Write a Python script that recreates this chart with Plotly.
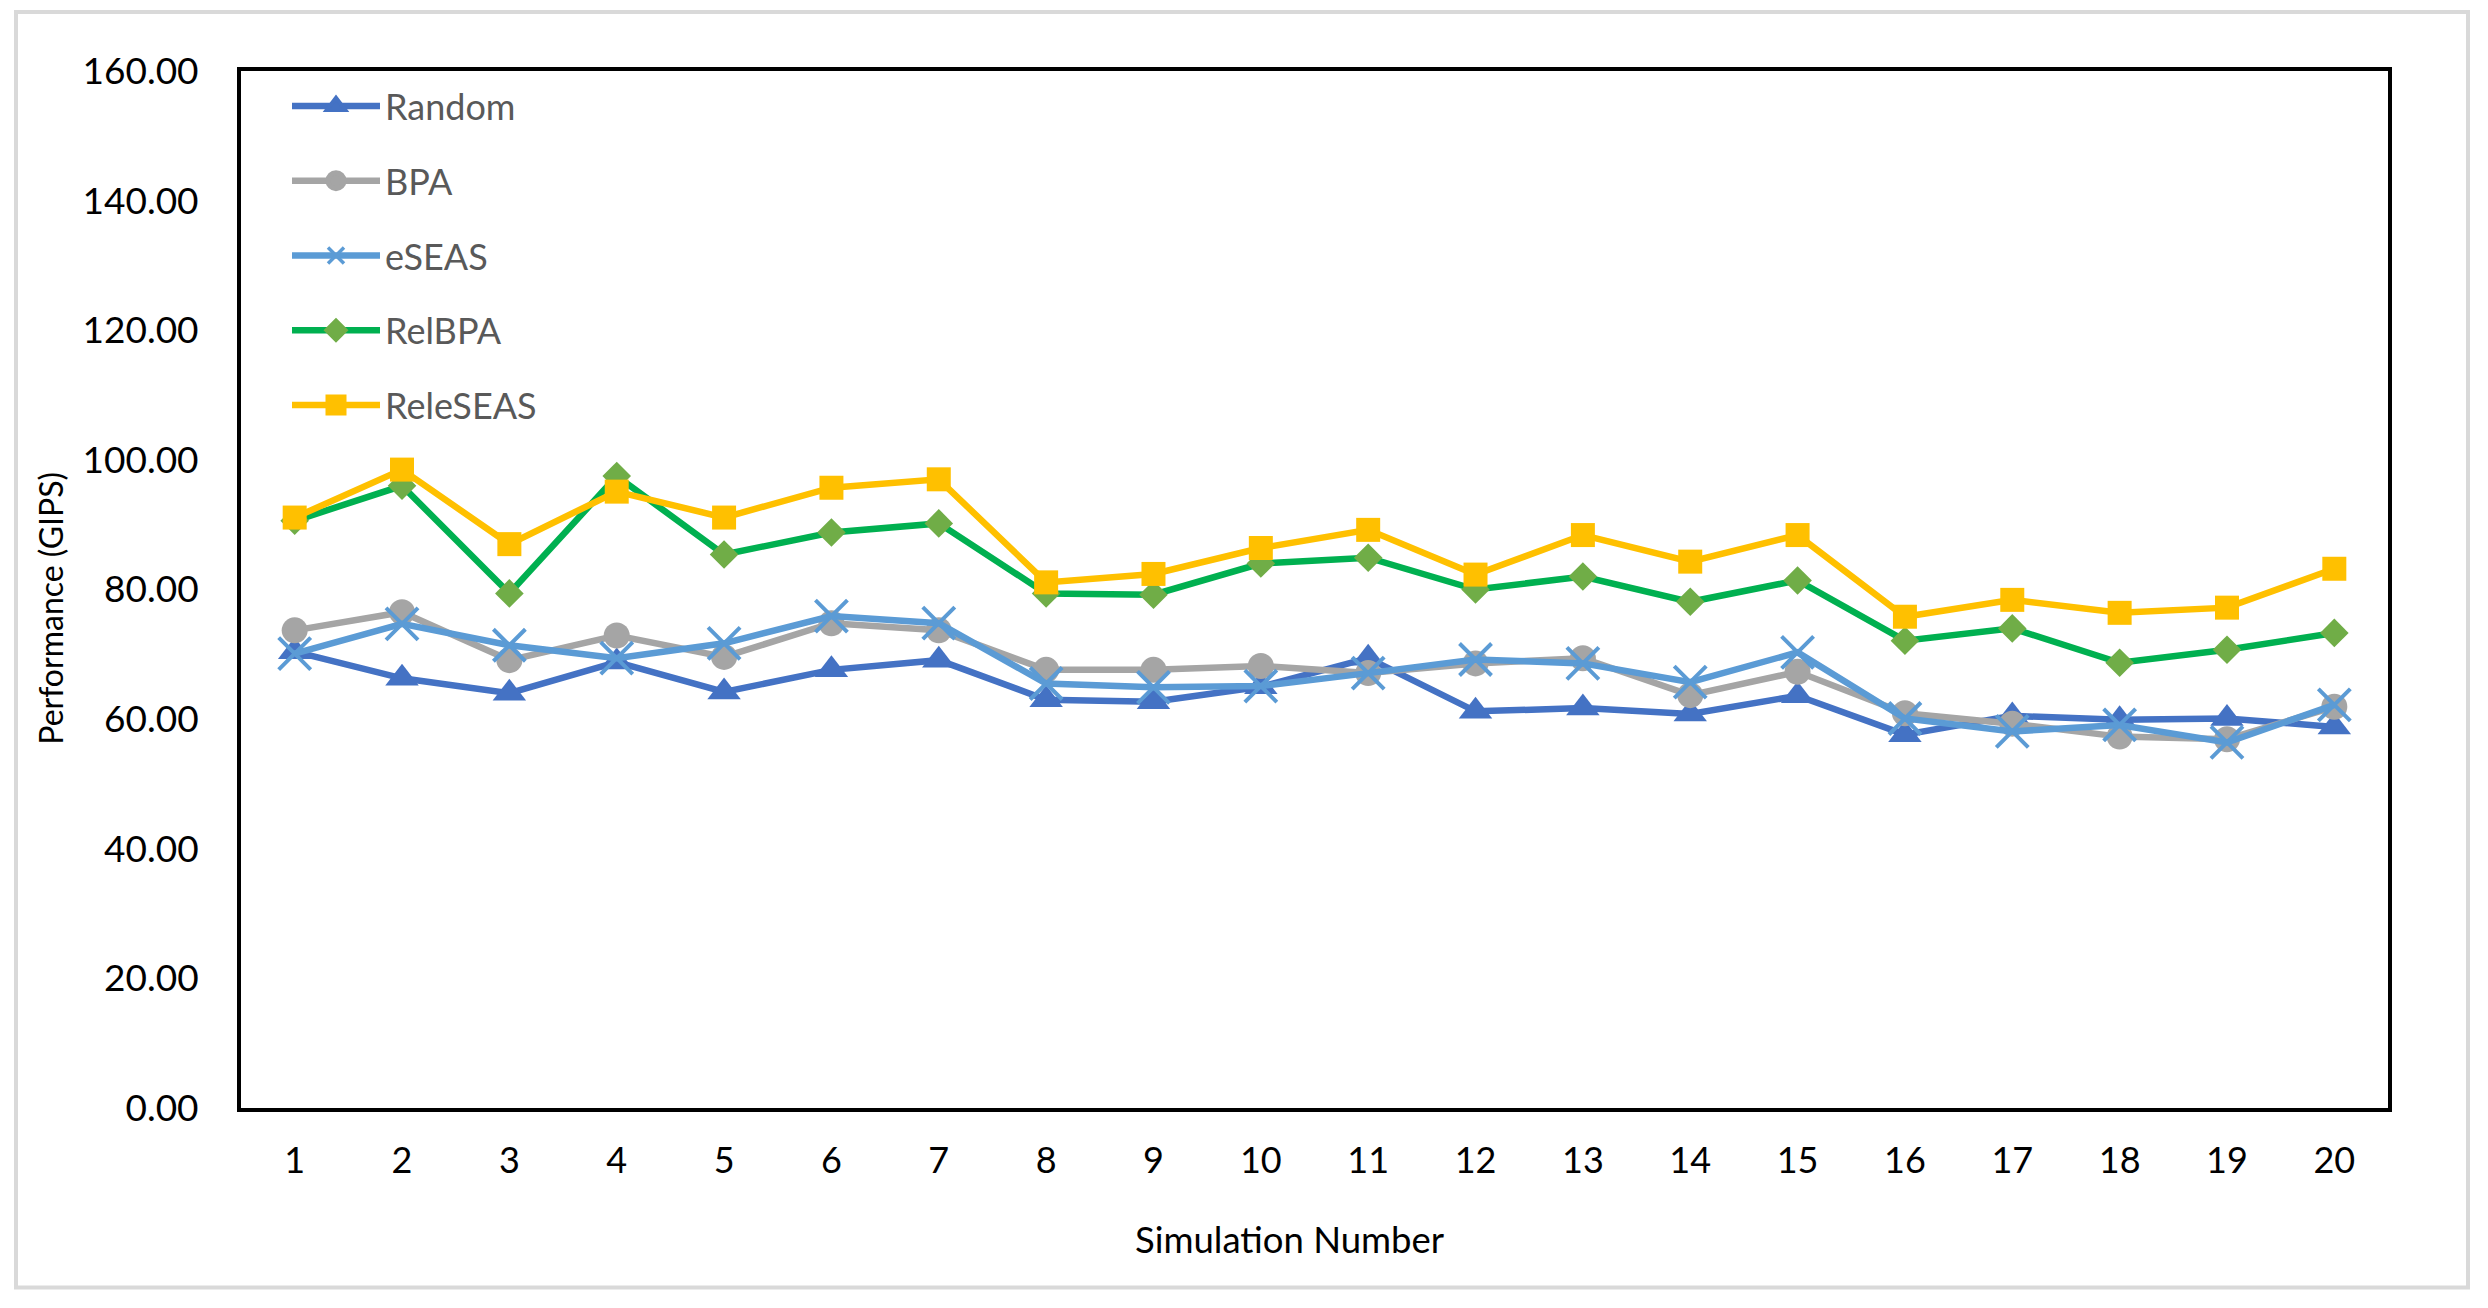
import plotly.graph_objects as go

sims = list(range(1, 21))
random_v = [70.4, 66.3, 64.0, 68.8, 64.2, 67.6, 69.1, 63.0, 62.7, 65.0, 69.4, 61.2, 61.7, 60.8, 63.6, 57.6, 60.5, 59.9, 60.1, 58.8]
bpa_v = [73.7, 76.5, 69.1, 72.9, 69.6, 74.8, 73.7, 67.6, 67.6, 68.2, 67.1, 68.6, 69.4, 63.7, 67.3, 60.9, 59.3, 57.3, 56.9, 61.9]
eseas_v = [70.1, 74.7, 71.4, 69.4, 71.7, 75.9, 74.8, 65.5, 64.9, 65.1, 67.1, 69.2, 68.6, 65.7, 70.3, 60.1, 58.1, 59.1, 56.4, 62.2]
relbpa_v = [90.6, 96.0, 79.4, 97.5, 85.4, 88.8, 90.2, 79.4, 79.2, 84.0, 84.9, 80.0, 82.0, 78.1, 81.4, 72.1, 74.0, 68.7, 70.7, 73.3]
releseas_v = [91.1, 98.5, 87.0, 95.1, 91.1, 95.7, 97.0, 81.1, 82.4, 86.4, 89.2, 82.3, 88.4, 84.3, 88.4, 75.8, 78.4, 76.4, 77.2, 83.2]
y_ticks = [0, 20, 40, 60, 80, 100, 120, 140, 160]

W, H = 2488, 1308
L, R, T, B = 241, 2388, 71, 1108.5
FONT = "Lato"

series = [
    ("Random", random_v, "#4472C4", "#4472C4", "triangle-up", 29, 16, 4),
    ("BPA", bpa_v, "#A5A5A5", "#A5A5A5", "circle", 26, 16, 5),
    ("eSEAS", eseas_v, "#5B9BD5", "#5B9BD5", "x-thin", 32, 16, 3.5),
    ("RelBPA", relbpa_v, "#00B050", "#70AD47", "diamond", 22, 16, 3),
    ("ReleSEAS", releseas_v, "#FFC000", "#FFC000", "square", 24, 16, 5),
]

fig = go.Figure()
for name, vals, lc, mc, sym, size, lsize, lw in series:
    mline = dict(width=4, color=mc) if sym == "x-thin" else dict(width=0)
    fig.add_trace(go.Scatter(
        x=sims, y=vals, mode="lines+markers", name=name, showlegend=False,
        line=dict(color=lc, width=6.5),
        marker=dict(symbol=sym, size=size, color=mc, line=mline),
    ))
for name, vals, lc, mc, sym, size, lsize, lw in series:
    fig.add_trace(go.Scatter(
        x=[None], y=[None], mode="lines+markers", name=name, legendgroup=name,
        line=dict(color=lc, width=6.5),
        marker=dict(symbol=sym, size=lsize, color=mc, line=dict(width=lw, color=mc)),
    ))

pw, ph = R - L, B - T
def px(x):
    return (x - L) / pw
def py(y):
    return (B - y) / ph

fig.update_layout(
    width=W, height=H,
    margin=dict(l=L, r=W - R, t=T, b=H - B, pad=0),
    paper_bgcolor="white", plot_bgcolor="white",
    font=dict(family=FONT, size=36, color="black"),
    showlegend=True,
    legend=dict(
        x=px(287), y=py(76), xanchor="left", yanchor="top",
        bgcolor="rgba(0,0,0,0)", font=dict(family=FONT, size=36, color="#595959"),
        tracegroupgap=25, itemwidth=88, traceorder="grouped",
    ),
    xaxis=dict(
        range=[0.5, 20.5], tickmode="array", tickvals=sims, ticktext=[str(s) for s in sims],
        showgrid=False, zeroline=False, showline=True, mirror=True, linecolor="black", linewidth=4,
        ticks="", tickfont=dict(family=FONT, size=36, color="black"), ticklabelstandoff=18,
    ),
    yaxis=dict(
        range=[0, 160], tickmode="array", tickvals=y_ticks, ticktext=[f"{v:.2f}" for v in y_ticks],
        showgrid=False, zeroline=False, showline=True, mirror=True, linecolor="black", linewidth=4,
        ticks="", tickfont=dict(family=FONT, size=37, color="black"), ticklabelstandoff=31,
    ),
    annotations=[
        dict(text="Simulation Number", x=px(1290), y=py(1240), xref="paper", yref="paper",
             showarrow=False, xanchor="center", yanchor="middle",
             font=dict(family=FONT, size=36.5, color="black")),
        dict(text="Performance (GIPS)", x=px(51), y=py(609), xref="paper", yref="paper",
             showarrow=False, xanchor="center", yanchor="middle", textangle=-90,
             font=dict(family=FONT, size=32, color="black")),
    ],
    shapes=[
        dict(type="rect", xref="paper", yref="paper", x0=px(16), x1=px(2468), y0=py(1288), y1=py(12),
             line=dict(color="#D9D9D9", width=4), fillcolor="rgba(0,0,0,0)", layer="below"),
    ],
)

fig.write_html("out.html", config={"displayModeBar": False},
               post_script="document.body.style.margin='0';document.body.style.overflow='hidden';")
